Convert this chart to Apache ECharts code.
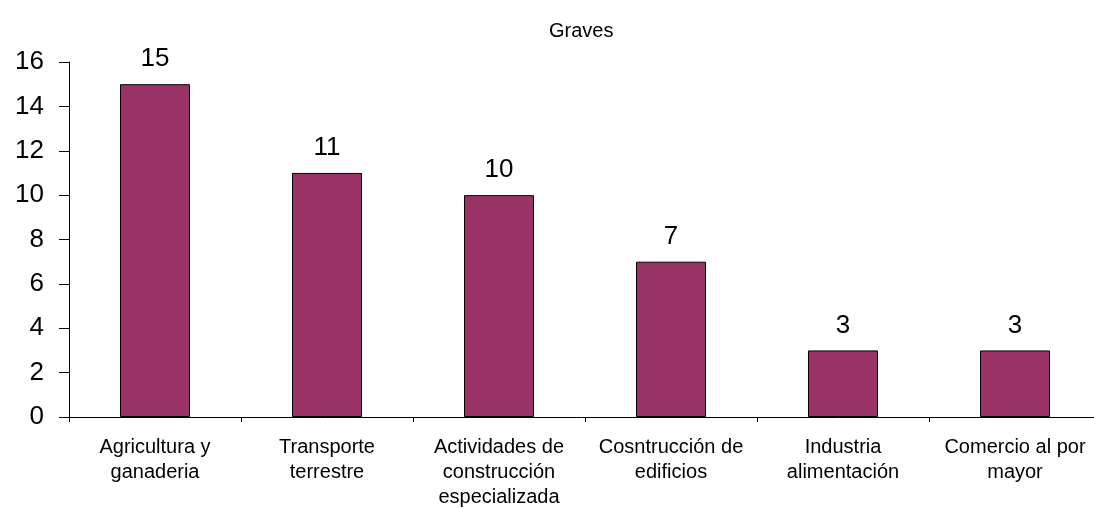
<!DOCTYPE html>
<html>
<head>
<meta charset="utf-8">
<script src="https://cdn.jsdelivr.net/npm/echarts@6/dist/echarts.min.js"></script>
<style>
  html, body { margin: 0; padding: 0; background: #fff; }
  #chart { width: 1094px; height: 508px; }
</style>
</head>
<body>
<div id="chart"></div>
<script>
// datos
const categories = [
  'Agricultura y\nganaderia',
  'Transporte\nterrestre',
  'Actividades de\nconstrucción\nespecializada',
  'Cosntrucción de\nedificios',
  'Industria\nalimentación',
  'Comercio al por\nmayor'
]
const graves = [15, 11, 10, 7, 3, 3]
const yTicks = { min: 0, max: 16, interval: 2 }

let myChart = echarts.init(document.getElementById('chart'))
let font = 'Liberation Sans, Arial, sans-serif'
let option = {
  animation: false,
  title: {
    text: 'Graves',
    left: 544,
    top: 16,
    textStyle: { fontFamily: font, fontSize: 20, fontWeight: 'normal', color: '#000' }
  },
  grid: {
    left: 69,
    width: 1032, // el eje sigue más allá del borde derecho
    top: 62,
    bottom: 91,
    outerBoundsMode: 'none',
    containLabel: false
  },
  xAxis: {
    type: 'category',
    data: categories,
    axisLine: { lineStyle: { color: '#000', width: 1 } },
    axisTick: { show: true, length: 5, lineStyle: { color: '#000' } },
    axisLabel: {
      color: '#000',
      fontFamily: font,
      fontSize: 20,
      lineHeight: 25,
      margin: 18,
      interval: 0
    }
  },
  yAxis: {
    type: 'value',
    min: yTicks.min,
    max: yTicks.max,
    interval: yTicks.interval,
    splitLine: { show: false },
    axisLine: { show: true, lineStyle: { color: '#000', width: 1 } },
    axisTick: { show: true, length: 10, lineStyle: { color: '#000' } },
    axisLabel: { color: '#000', fontFamily: font, fontSize: 26, margin: 25 }
  },
  series: [
    {
      name: 'Graves',
      type: 'bar',
      data: graves,
      barWidth: 70,
      itemStyle: {
        color: '#993366',
        borderColor: '#000',
        borderWidth: 1
      },
      label: {
        show: true,
        position: 'top',
        distance: 12,
        color: '#000',
        fontFamily: font,
        fontSize: 26
      }
    }
  ]
}
myChart.setOption(option)
window.addEventListener('resize', function () {
  myChart.resize()
})
</script>
</body>
</html>
